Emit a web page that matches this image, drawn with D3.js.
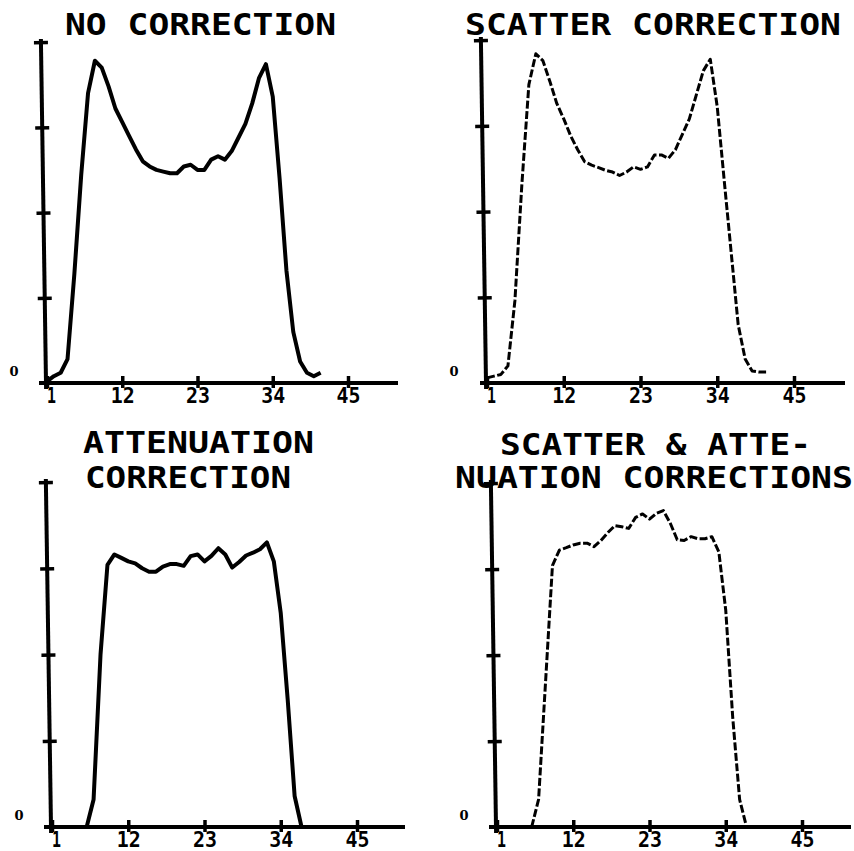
<!DOCTYPE html>
<html><head><meta charset="utf-8">
<script src="https://cdn.jsdelivr.net/npm/d3@7"></script>
<style>body{margin:0;background:#fff}svg{display:block}</style>
</head><body><svg id="c" width="854" height="851"></svg>
<script>
// ---- data ----
const xTickValues = [1, 12, 23, 34, 45];
const yTickValues = [25, 50, 75, 100];
const zeroLabel = "0";

const noCorrectionStart = 1;
const noCorrection = [0.5, 2, 3, 7, 32, 61, 85, 94.5, 92.5, 87, 80.5, 76.5, 72.5, 68.5, 65, 63.5, 62.5, 62, 61.5, 61.5,
  63.5, 64, 62.5, 62.5, 65.5, 66.5, 65.5, 68, 72, 76, 82, 89.5, 93.5, 84, 60, 33, 15, 6.3, 3, 2, 3];

const scatterStart = 1;
const scatterCorrection = [1.5, 2, 2.5, 5, 24, 58, 87, 96, 94, 88, 81.5, 77, 72, 68, 64.5, 63.5, 62.8, 62, 61.5, 60.5,
  61.5, 63, 62.3, 63, 66.5, 66.5, 65.5, 68, 72.5, 77, 84, 91, 94.4, 80.5, 59, 38, 17, 7, 3.5, 3.2, 3.2];

const attenuationStart = 6;
const attenuationCorrection = [0, 8, 50, 76, 79, 78, 77, 76.4, 75, 74, 74, 75.5, 76.2, 76.2, 75.7, 78.5, 79, 77, 78.6, 80.8,
  79, 75.2, 76.8, 78.7, 79.5, 80.5, 82.5, 77, 62, 37, 9, 0];

const bothStart = 6;
const scatterAttenuationCorrection = [0, 8, 42, 76, 80.5, 81.2, 82, 82.5, 82.5, 81.5, 83.3, 85.6, 87.6, 87.3, 86.8, 90, 91, 89.5, 91.2, 92,
  88.3, 83.5, 83.3, 84.4, 83.8, 83.8, 84.4, 80, 63, 32, 8, 0];

const titleLines = [
  ["NO CORRECTION"],
  ["SCATTER CORRECTION"],
  ["ATTENUATION", "CORRECTION"],
  ["SCATTER & ATTE-", "NUATION CORRECTIONS"]
];

// ---- layout ----
const panels = [
  {values: noCorrection, start: noCorrectionStart, x1: 47, x45: 348, y0: 383, y100: 42, axL: 39, axR: 398,
   tx: [65], ty: [35], tl: [271], dashed: false},
  {values: scatterCorrection, start: scatterStart, x1: 487, x45: 794, y0: 383, y100: 40, axL: 480, axR: 845,
   tx: [465], ty: [35], tl: [376], dashed: true},
  {values: attenuationCorrection, start: attenuationStart, x1: 52, x45: 357, y0: 827, y100: 482, axL: 44, axR: 405,
   tx: [83, 85], ty: [453, 488], tl: [231, 206], dashed: false},
  {values: scatterAttenuationCorrection, start: bothStart, x1: 497, x45: 802, y0: 827, y100: 483, axL: 489, axR: 851,
   tx: [500, 455], ty: [455, 488], tl: [311, 398], dashed: true}
];

const svg = d3.select("#c");
svg.append("rect").attr("width", 854).attr("height", 851).attr("fill", "#fff");

panels.forEach((p, pi) => {
  const x = d3.scaleLinear().domain([1, 45]).range([p.x1, p.x45]);
  const y = d3.scaleLinear().domain([0, 100]).range([p.y0, p.y100]);
  const g = svg.append("g");

  // curve
  const pts = p.values.map((v, i) => [p.start + i, v]);
  g.append("path")
    .datum(pts)
    .attr("d", d3.line().x(d => x(d[0])).y(d => y(d[1])).curve(d3.curveLinear))
    .attr("fill", "none")
    .attr("stroke", "#000")
    .attr("stroke-width", p.dashed ? 3 : 4)
    .attr("stroke-linejoin", "round")
    .attr("stroke-dasharray", p.dashed ? "8,2.5" : null);

  // x axis
  const xa = g.append("g").attr("transform", `translate(0,${p.y0})`)
    .call(d3.axisBottom(x).tickValues(xTickValues).tickSize(5).tickPadding(2));
  xa.select(".domain").remove();
  xa.append("line").attr("x1", p.axL).attr("x2", p.axR).attr("y1", 0).attr("y2", 0)
    .attr("stroke", "#000").attr("stroke-width", 4);
  xa.selectAll(".tick line").attr("y1", -7).attr("y2", 5).attr("stroke", "#000").attr("stroke-width", 3.5);
  xa.selectAll(".tick text")
    .attr("y", 20).attr("dy", null)
    .attr("dx", d => d === 1 ? 4 : 0)
    .attr("fill", "#000")
    .style("font-family", "'DejaVu Sans Mono', monospace")
    .style("font-weight", "bold")
    .style("font-size", "22px")
    .attr("textLength", d => String(d).length > 1 ? 24 : 9)
    .attr("lengthAdjust", "spacingAndGlyphs");

  // y axis (slightly tilted as in the plot)
  const ya = g.append("g").attr("transform", `rotate(-0.85,${p.x1},${p.y0}) translate(${p.x1 - 1},0)`)
    .call(d3.axisLeft(y).tickValues(yTickValues).tickSize(6).tickFormat(""));
  ya.select(".domain").remove();
  ya.append("line").attr("x1", 0).attr("x2", 0).attr("y1", p.y100 - 3).attr("y2", p.y0 + 6)
    .attr("stroke", "#000").attr("stroke-width", 4);
  ya.selectAll(".tick line").attr("x1", -7).attr("x2", 7).attr("stroke", "#000").attr("stroke-width", 3.5);

  // zero label
  g.append("text").attr("x", p.x1 - 33).attr("y", p.y0 - 7)
    .attr("text-anchor", "middle")
    .style("font-family", "'DejaVu Serif', serif")
    .style("font-weight", "bold")
    .style("font-size", "13px")
    .text(zeroLabel);

  // title
  titleLines[pi].forEach((t, li) => {
    g.append("text")
      .attr("x", p.tx[li]).attr("y", p.ty[li])
      .style("font-family", "'DejaVu Sans Mono', monospace")
      .style("font-weight", "bold")
      .style("font-size", "30px")
      .attr("textLength", p.tl[li])
      .attr("lengthAdjust", "spacingAndGlyphs")
      .attr("fill", "#000")
      .text(t);
  });
});
</script>
</body></html>
